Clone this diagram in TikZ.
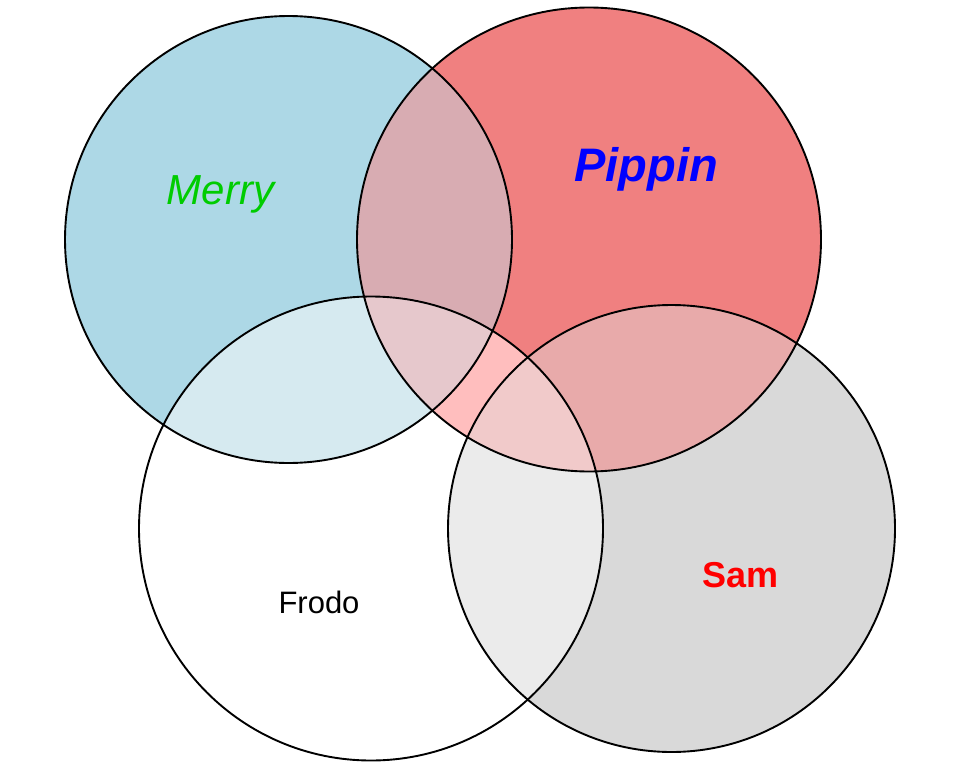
\documentclass[tikz,border=0pt]{standalone}
\usepackage{fontspec}
\setmainfont{Liberation Sans}

\definecolor{merryblue}{RGB}{173,216,230}
\definecolor{pippinred}{RGB}{240,128,128}
\definecolor{samgray}{RGB}{217,217,217}
\definecolor{mixmp}{RGB}{216,172,178}
\definecolor{mixmf}{RGB}{214,234,240}
\definecolor{mixpf}{RGB}{255,190,190}
\definecolor{mixps}{RGB}{232,170,170}
\definecolor{mixfs}{RGB}{235,235,235}
\definecolor{mixmpf}{RGB}{230,200,204}
\definecolor{mixpfs}{RGB}{241,202,202}
\definecolor{merrygreen}{RGB}{0,204,0}

\begin{document}
\begin{tikzpicture}[x=1pt,y=-1pt,
  outline/.style={draw=black, line width=1.9pt},
  label/.style={anchor=base, inner sep=0pt}]
  \useasboundingbox (0,0) rectangle (960,768);
  \def\merry{(288.5,239.5) circle[radius=223.5pt]}
  \def\pippin{(589,239.5) circle[radius=232pt]}
  \def\frodo{(371,528.5) circle[radius=232pt]}
  \def\sam{(671.5,528.5) circle[radius=223.5pt]}
  % plain fills
  \fill[merryblue] \merry;
  \fill[pippinred] \pippin;
  \fill[white] \frodo;
  \fill[samgray] \sam;
  % two-way overlaps
  \begin{scope} \clip \merry; \fill[mixmp] \pippin; \end{scope}
  \begin{scope} \clip \merry; \fill[mixmf] \frodo; \end{scope}
  \begin{scope} \clip \pippin; \fill[mixpf] \frodo; \end{scope}
  \begin{scope} \clip \pippin; \fill[mixps] \sam; \end{scope}
  \begin{scope} \clip \frodo; \fill[mixfs] \sam; \end{scope}
  % three-way overlaps
  \begin{scope} \clip \merry; \clip \pippin; \fill[mixmpf] \frodo; \end{scope}
  \begin{scope} \clip \pippin; \clip \frodo; \fill[mixpfs] \sam; \end{scope}
  % outlines
  \draw[outline] \merry;
  \draw[outline] \pippin;
  \draw[outline] \frodo;
  \draw[outline] \sam;
  % names
  \node[label, text=merrygreen, font=\fontsize{42}{42}\selectfont\itshape] (merrytext) at (220.5,204) {Merry};
  \node[label, text=blue, font=\fontsize{47}{47}\selectfont\bfseries\itshape] (pippintext) at (646,181.5) {Pippin};
  \node[label, text=black, font=\fontsize{31}{31}\selectfont] (frodotext) at (319,613.5) {Frodo};
  \node[label, text=red, font=\fontsize{36}{36}\selectfont\bfseries] (samtext) at (740.5,587.5) {Sam};
\end{tikzpicture}
\end{document}
